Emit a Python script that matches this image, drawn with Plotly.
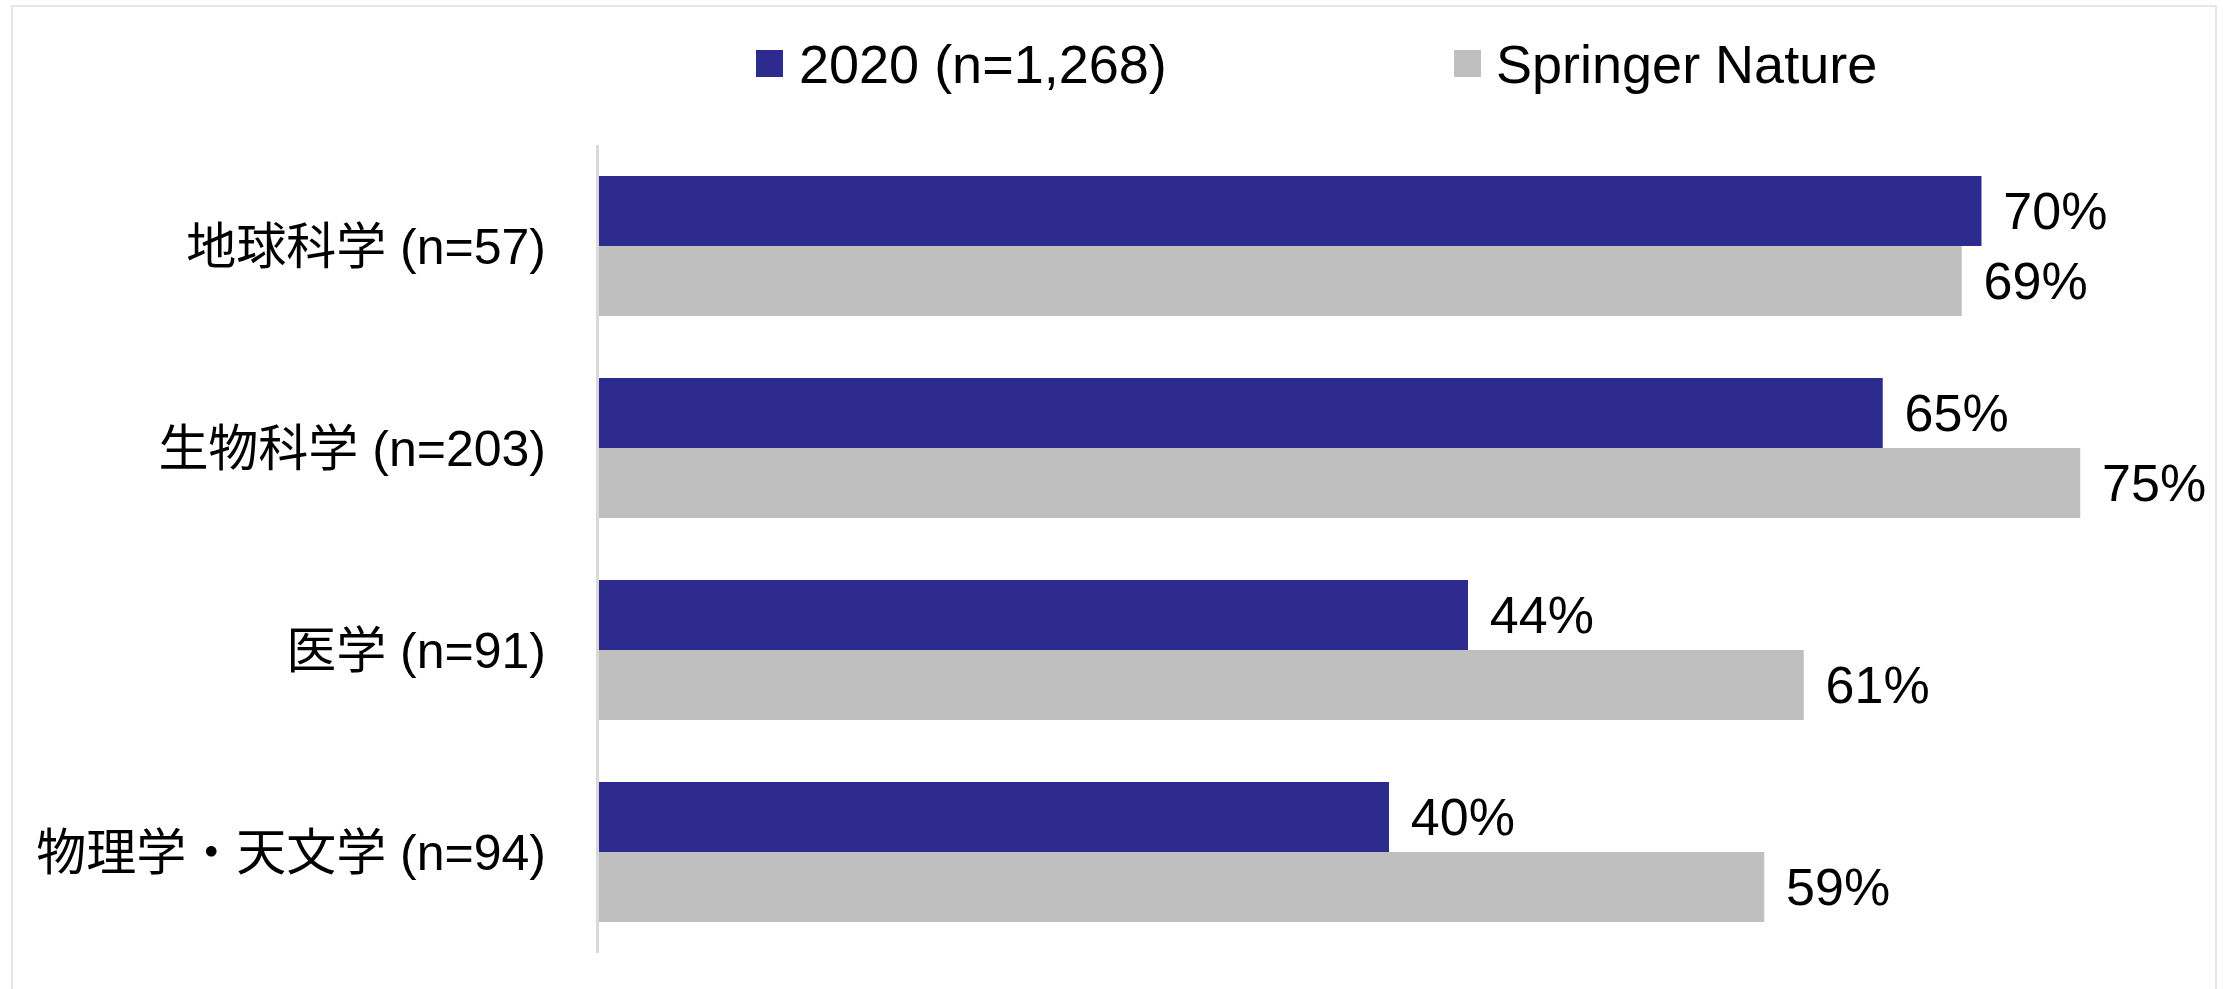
import plotly.graph_objects as go

categories = ["地球科学 (n=57)", "生物科学 (n=203)", "医学 (n=91)", "物理学・天文学 (n=94)"]
series_2020 = [70, 65, 44, 40]
series_sn = [69, 75, 61, 59]
series_names = ["2020 (n=1,268)", "Springer Nature"]
colors = ["#2E2B8F", "#BFBFBF"]

W, H = 2231, 989
ML, MR, MT, MB = 599, 31, 145, 36
PW, PH = W - ML - MR, H - MT - MB
XMAX = PW / 19.75

def px(x):
    return (x - ML) / PW

def py(y):
    return (H - MB - y) / PH

FONT = "Liberation Sans, Arial, Noto Sans CJK JP, sans-serif"

fig = go.Figure()
for name, vals, col in zip(series_names, [series_2020, series_sn], colors):
    fig.add_trace(go.Bar(
        y=categories, x=vals, name=name, orientation="h",
        marker=dict(color=col, line=dict(width=0)),
        text=[f"\u00a0\u200a{v}%" for v in vals],
        textposition="outside", constraintext="none", cliponaxis=False,
        textfont=dict(size=52, color="black", family=FONT),
        showlegend=False,
    ))

shapes = [
    dict(type="rect", xref="paper", yref="paper", x0=px(12), x1=px(2216), y0=py(6), y1=py(995),
         line=dict(color="#E6E6E6", width=2), fillcolor="rgba(0,0,0,0)", layer="below"),
]
annotations = []
for (sx, tx), name, col in zip([(756, 797), (1454, 1494)], series_names, colors):
    shapes.append(dict(type="rect", xref="paper", yref="paper", x0=px(sx), x1=px(sx + 27),
                       y0=py(77), y1=py(50), line=dict(width=0), fillcolor=col))
    annotations.append(dict(xref="paper", yref="paper", x=px(tx), y=py(64), text=name,
                            showarrow=False, xanchor="left", yanchor="middle",
                            font=dict(size=54, color="black", family=FONT)))

fig.update_layout(
    width=W, height=H,
    margin=dict(l=ML, r=MR, t=MT, b=MB),
    paper_bgcolor="white", plot_bgcolor="white",
    barmode="group", bargap=0.307, bargroupgap=0,
    font=dict(family=FONT, color="black"),
    xaxis=dict(range=[0, XMAX], visible=False, showgrid=False, zeroline=False),
    yaxis=dict(autorange="reversed", showline=True, linecolor="#D9D9D9", linewidth=3,
               ticks="", showgrid=False, zeroline=False,
               tickfont=dict(size=50, color="black", family=FONT),
               ticklabelstandoff=40),
    shapes=shapes, annotations=annotations, showlegend=False,
)

fig.write_html("out.html")
